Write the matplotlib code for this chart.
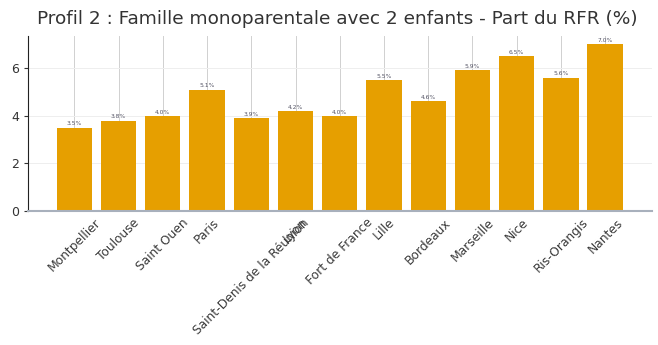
import matplotlib
matplotlib.use("Agg")
import matplotlib.pyplot as plt

villes = ["Montpellier", "Toulouse", "Saint Ouen", "Paris",
          "Saint-Denis de la Réunion", "Lyon", "Fort de France", "Lille",
          "Bordeaux", "Marseille", "Nice", "Ris-Orangis", "Nantes"]
part_rfr = [3.5, 3.8, 4.0, 5.1, 3.9, 4.2, 4.0, 5.5, 4.6, 5.9, 6.5, 5.6, 7.0]
titre = "Profil 2 : Famille monoparentale avec 2 enfants - Part du RFR (%)"

fig = plt.figure(figsize=(6.58, 3.45), dpi=100)
ax = fig.add_axes([0.043, 0.388, 0.948, 0.508])

x = range(len(villes))
bars = ax.bar(x, part_rfr, width=0.8, color="#E69F00", zorder=2)

for xi, v in zip(x, part_rfr):
    ax.text(xi, v + 0.05, f"{v:.1f}%", ha="center", va="bottom",
            fontsize=4.3, color="#555566", zorder=3)

ax.set_xticks(list(x))
ax.set_xticklabels(villes, rotation=45, ha="center", fontsize=8.8, color="#3a3a3a")
ax.set_yticks([0, 2, 4, 6])
ax.tick_params(axis="y", labelsize=9, length=3, colors="#333333")
ax.tick_params(axis="x", direction="in", length=3, color="#444444")
ax.set_xlim(-1.04, 13.06)
ax.set_ylim(0, 7.35)

ax.grid(axis="x", color="#d0d0d0", linewidth=0.7, zorder=0)
ax.grid(axis="y", color="#eeeeee", linewidth=0.7, zorder=0)
ax.spines["top"].set_visible(False)
ax.spines["right"].set_visible(False)
ax.spines["left"].set_color("#222222")
ax.spines["bottom"].set_color("#a8b0bc")
ax.spines["bottom"].set_linewidth(1.5)

fig.suptitle(titre, x=0.512, y=0.97, fontsize=13.3, color="#333333")

fig.savefig("out.png", dpi=100)
